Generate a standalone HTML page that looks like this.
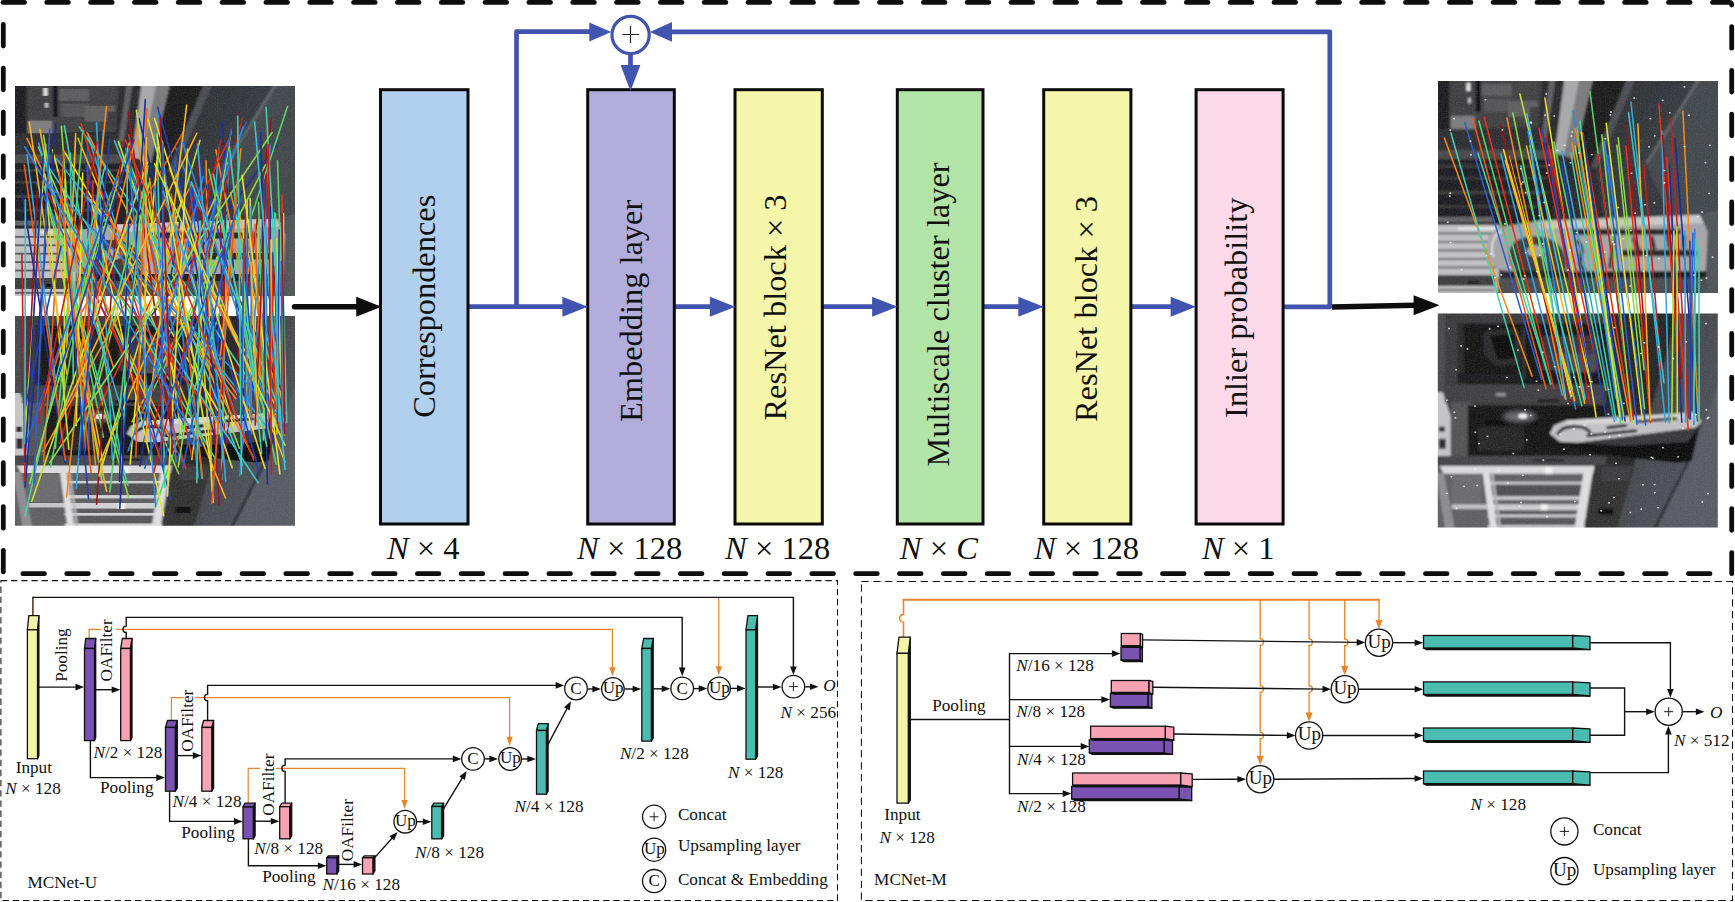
<!DOCTYPE html>
<html><head><meta charset="utf-8"><title>MCNet</title>
<style>
html,body{margin:0;padding:0;background:#fff;}
body{width:1735px;height:902px;overflow:hidden;font-family:"Liberation Serif",serif;}
svg{display:block;font-family:"Liberation Serif",serif;fill:#111;}
</style></head><body>
<svg width="1735" height="902" viewBox="0 0 1735 902">
<rect x="0" y="0" width="1735" height="902" fill="#fff"/>
<defs>
<filter id="blur" x="-5%" y="-5%" width="110%" height="110%"><feGaussianBlur stdDeviation="0.8"/></filter>
<filter id="blur2" x="-30%" y="-30%" width="160%" height="160%"><feGaussianBlur stdDeviation="2.5"/></filter>
<filter id="grain" x="0" y="0" width="100%" height="100%"><feTurbulence type="fractalNoise" baseFrequency="0.8" numOctaves="2" seed="3" result="n"/><feColorMatrix in="n" type="matrix" values="0 0 0 0 0.5  0 0 0 0 0.5  0 0 0 0 0.52  1.4 1.4 1.4 0 -1.75"/></filter>
<linearGradient id="pavA" x1="0" y1="0" x2="1" y2="1"><stop offset="0" stop-color="#2b2e32"/><stop offset="1" stop-color="#45494e"/></linearGradient>
<linearGradient id="pavB" x1="0" y1="0" x2="1" y2="1"><stop offset="0" stop-color="#35383c"/><stop offset="1" stop-color="#5a5e64"/></linearGradient>
<clipPath id="cp"><rect x="0" y="0" width="280" height="212"/></clipPath>
<g id="sceneA" clip-path="url(#cp)"><g filter="url(#blur)">
<rect x="-5" y="-5" width="290" height="222" fill="#2c2c2e"/>
<rect x="-5" y="-5" width="16" height="150" fill="#1e1e20"/>
<polygon points="12,-5 112,-5 104,46 12,48" fill="#414143"/>
<rect x="38" y="-5" width="4.5" height="36" fill="#111113"/>
<rect x="44" y="3" width="30" height="12" fill="#5c5c5e"/>
<rect x="76" y="0" width="24" height="14" fill="#424244"/>
<rect x="46" y="18" width="28" height="13" fill="#525254"/>
<rect x="70" y="20" width="30" height="16" fill="#5e5e60"/>
<rect x="92" y="26" width="14" height="14" fill="#3a3a3c"/>
<rect x="28.5" y="2" width="4" height="8" fill="#e8e8e8"/>
<rect x="29" y="17" width="4" height="5" fill="#c4c4c4"/>
<rect x="16" y="14" width="14" height="12" fill="#3e3e40"/>
<rect x="13" y="35" width="24" height="13" fill="#7c7c7e"/>
<rect x="-5" y="48" width="125" height="22" fill="#2e2e30"/>
<rect x="-5" y="69" width="125" height="9" fill="#48484a"/>
<rect x="-5" y="79" width="120" height="62" fill="#1f1f21"/>
<rect x="0" y="84" width="110" height="2.5" fill="#3a3a3c"/>
<rect x="0" y="96" width="110" height="2.5" fill="#38383a"/>
<rect x="0" y="110" width="110" height="3" fill="#3c3c3e"/>
<rect x="0" y="124" width="100" height="3" fill="#343436"/>
<rect x="-5" y="136" width="60" height="5" fill="#646466"/>
<polygon points="104,-5 128,-5 117,70 100,60" fill="#2c2c2e"/>
<polygon points="112,-5 118,-5 108,62 103,60" fill="#5e5e60"/>
<polygon points="127,-5 156,-5 136,78 117,72" fill="#7a7a7c"/>
<polygon points="127,-5 142,-5 126,74 117,72" fill="#a9a9ab"/>
<polygon points="156,-5 192,-5 154,86 136,78" fill="#1a1a1c"/>
<polygon points="190,-5 199,-5 159,88 153,86" fill="#4c4e52"/>
<polygon points="200,-5 285,-5 285,217 160,217 168,132 158,88" fill="url(#pavA)"/>
<polygon points="262,-5 285,-5 285,150 240,150 226,122 208,82" fill="#43474c"/>
<polygon points="261,-5 265,-5 211,82 207,82" fill="#5c6065"/>
<polygon points="158,88 207,84 226,122 240,150 168,150" fill="#34363a"/>
<rect x="-5" y="144" width="66" height="72" fill="#c2c2c4"/>
<rect x="-5" y="151.5" width="64" height="1.8" fill="#5a5a5c"/>
<rect x="-5" y="160" width="64" height="1.8" fill="#5a5a5c"/>
<rect x="-5" y="168.5" width="64" height="1.8" fill="#5a5a5c"/>
<rect x="-5" y="177" width="64" height="1.8" fill="#5a5a5c"/>
<rect x="-5" y="185.5" width="64" height="1.8" fill="#5a5a5c"/>
<rect x="-5" y="194" width="62" height="11" fill="#3c3c3e"/>
<rect x="-5" y="208" width="62" height="2" fill="#666668"/>
<rect x="30" y="200" width="11" height="3" fill="#0c0c0e"/>
<rect x="20" y="146" width="40" height="3" fill="#e4e4e6"/>
<path d="M62,146 C50,150 46,166 50,176 C54,186 62,190 70,190 L268,190 L270,150 L262,134 L100,140 Z" fill="#a6a6a8"/>
<path d="M64,150 C54,154 52,168 56,176" fill="none" stroke="#e0e0e2" stroke-width="2"/>
<polygon points="100,140 262,134 266,142 102,148" fill="#c8c8ca"/>
<path d="M72,168 C76,156 96,152 112,158 C126,164 130,178 128,190 L78,190 C72,184 70,176 72,168 Z" fill="#3e3e40"/>
<ellipse cx="98" cy="170" rx="9" ry="6" fill="#a8a8aa"/>
<g fill="none" stroke="#262628" stroke-linecap="round">
<path d="M138,151 H240" stroke-width="6"/>
<path d="M186,172 H256" stroke-width="6.5"/>
<path d="M140,160 C150,172 136,182 146,188 M160,158 L164,186 M176,158 L172,186" stroke-width="3.5"/>
<path d="M196,158 L200,168 M214,157 L216,167 M230,156 L232,166 M246,156 L246,166" stroke-width="4"/>
</g>
<polygon points="70,190 268,190 268,197 74,197" fill="#1a1a1c"/>
<polygon points="60,197 285,197 285,217 60,217" fill="#4a4c50"/>
<polygon points="262,134 285,128 285,217 268,217 270,150" fill="#505458"/>
</g><rect x="0" y="0" width="280" height="212" filter="url(#grain)" opacity="0.12"/></g>
<g id="sceneB" clip-path="url(#cp)"><g filter="url(#blur)">
<rect x="-5" y="-5" width="290" height="222" fill="#3a3a3c"/>
<rect x="-5" y="-5" width="12" height="90" fill="#4a4a4c"/>
<polygon points="-5,78 5,78 13,102 13,145 -5,145" fill="#c6c6c8"/>
<rect x="1" y="112" width="6" height="5" fill="#2c2c2e"/>
<rect x="1" y="124" width="7" height="10" fill="#2c2c2e"/>
<rect x="13" y="76" width="22" height="70" fill="#525254"/>
<rect x="20" y="10" width="148" height="60" fill="#161618"/>
<polygon points="20,10 26,10 26,70 20,70" fill="#2a2a2c"/>
<polygon points="46,18 78,14 84,24 82,50 58,52 46,40" fill="#2a2a2c"/>
<polygon points="52,22 76,20 78,44 60,46" fill="#0f0f11"/>
<rect x="84" y="14" width="4" height="52" fill="#2e2e30"/>
<rect x="104" y="22" width="58" height="34" fill="#3c3034"/>
<rect x="118" y="40" width="40" height="18" fill="#4a4c52"/>
<rect x="20" y="60" width="62" height="8" fill="#1f1f21"/>
<rect x="7" y="71" width="165" height="17" fill="#414143"/>
<rect x="58" y="78.5" width="10" height="3.5" fill="#8c8c8e"/>
<rect x="100" y="85" width="22" height="2.6" fill="#101014"/>
<rect x="30" y="91" width="144" height="50" fill="#131315"/>
<rect x="40" y="112" width="46" height="24" fill="#262628"/>
<rect x="48" y="106" width="52" height="4" fill="#0a0a0c"/>
<ellipse cx="82" cy="102" rx="17" ry="6" fill="#6c6c6e" filter="url(#blur2)"/>
<ellipse cx="85" cy="101.5" rx="4.5" ry="2.6" fill="#f6f6f6"/>
<rect x="-5" y="141" width="180" height="10.5" fill="#454547"/>
<rect x="96" y="144" width="30" height="2.4" fill="#242426"/>
<polygon points="168,-5 244,-5 214,92 196,150 168,150" fill="#262628"/>
<polygon points="242,-5 285,-5 285,217 176,217 196,150 214,92" fill="url(#pavB)"/>
<polygon points="252,144 285,60 285,217 216,217" fill="#585c62"/>
<polygon points="250,144 253,144 217,217 213,217" fill="#2e3034"/>
<rect x="-5" y="151" width="162" height="70" fill="#606062"/>
<rect x="14" y="160" width="30" height="28" fill="#6c6c6e"/>
<rect x="56" y="170" width="90" height="12" fill="#505052"/>
<rect x="56" y="196" width="84" height="14" fill="#565658"/>
<polygon points="2,151 157,151 155,158.6 6,158.6" fill="#dcdcde"/>
<rect x="50" y="166.7" width="98" height="2.4" fill="#d2d2d4"/>
<rect x="50" y="181" width="98" height="3.4" fill="#d2d2d4"/>
<rect x="50" y="189" width="98" height="5.6" fill="#d2d2d4"/>
<rect x="50" y="199" width="98" height="2.8" fill="#d2d2d4"/>
<rect x="50" y="209.6" width="98" height="3" fill="#d2d2d4"/>
<rect x="14" y="189" width="38" height="4.5" fill="#c6c6c8"/>
<polygon points="45,158 51.6,158 60,217 53,217" fill="#e2e2e4"/>
<polygon points="53,158 55.5,158 64,217 61.5,217" fill="#b8b8ba"/>
<polygon points="146,156 155,156 145,217 136,217" fill="#e0e0e2"/>
<polygon points="-2,158 6,158 18,217 8,217" fill="#8e8e90"/>
<rect x="107" y="152" width="7" height="7" fill="#f4f4f4"/>
<rect x="103" y="189" width="7" height="6" fill="#f4f4f4"/>
<polygon points="157,150 197,150 178,217 146,217" fill="#303032"/>
<polygon points="164,152 194,152 190,166 164,166" fill="#3e3e40"/>
<rect x="160" y="193" width="16" height="6" fill="#0e0e10"/>
<polygon points="132,124 262,110 254,146 240,148 176,141 134,132" fill="#0c0c0e"/>
<polygon points="112,119 116,111 128,106 256,98 264,107 258,113 140,128 122,127" fill="#c2c2c4"/>
<polygon points="128,106 256,98 258,103 130,111" fill="#d8d8da"/>
<path d="M120,119 C126,109 148,110 152,118 M150,121 L198,116 M200,107 L238,104 M170,113 L188,111" fill="none" stroke="#262628" stroke-width="3" stroke-linecap="round"/>
<polygon points="140,128 258,113 262,111 250,127 186,131" fill="#38383a"/>
</g><rect x="0" y="0" width="280" height="212" filter="url(#grain)" opacity="0.12"/></g>
</defs>
<use href="#sceneA" transform="translate(15 86) scale(1 0.99)"/>
<use href="#sceneB" transform="translate(15 315.9) scale(1 0.99)"/>
<use href="#sceneA" transform="translate(1437.9 81) scale(1 1)"/>
<use href="#sceneB" transform="translate(1437.8 313.5) scale(1 1.01)"/>
<g stroke-width="1.6" stroke-linecap="round" fill="none">
<path d="M265.33,197.54 L267.51,400.69" stroke="#2b5fd2"/>
<path d="M85.5,165.06 L170.89,499.38" stroke="#2440b8"/>
<path d="M175.66,147.73 L285,422.97" stroke="#2f86de"/>
<path d="M174,166.18 L224.38,389.79" stroke="#45d0a8"/>
<path d="M120.8,164.66 L40.38,410.08" stroke="#f05c1a"/>
<path d="M229.3,155.16 L214.07,405.52" stroke="#2b5fd2"/>
<path d="M174.95,161.97 L225.75,471.27" stroke="#2b5fd2"/>
<path d="M52.64,149.99 L109.14,370.99" stroke="#ece02e"/>
<path d="M247.12,199.57 L246.35,421.38" stroke="#c4e23a"/>
<path d="M194.43,260.36 L285,422.25" stroke="#f4b624"/>
<path d="M27.05,154.72 L55.21,377.84" stroke="#36a8dc"/>
<path d="M218.88,147.86 L196.49,437.57" stroke="#36a8dc"/>
<path d="M240.57,213.97 L132.15,432.26" stroke="#58d46c"/>
<path d="M61.45,126.2 L85.2,447.15" stroke="#8cdc4a"/>
<path d="M96.56,122.91 L112.38,460.06" stroke="#36a8dc"/>
<path d="M206.05,160.83 L211.81,490.9" stroke="#f28a1e"/>
<path d="M127.68,147.47 L124.21,437.43" stroke="#45d0a8"/>
<path d="M139.09,118.58 L218.25,452.67" stroke="#1c2f96"/>
<path d="M39.84,129.33 L102.95,462.44" stroke="#f4b624"/>
<path d="M148.07,119.28 L233.33,426.07" stroke="#ece02e"/>
<path d="M219.41,156.61 L224.56,450.53" stroke="#9c1420"/>
<path d="M280.2,233.19 L276.84,433.7" stroke="#f4b624"/>
<path d="M227.88,162.84 L221.74,479.58" stroke="#45d0a8"/>
<path d="M237.03,204.64 L285,413.5" stroke="#f4b624"/>
<path d="M216.91,257.29 L191.85,459.6" stroke="#f4b624"/>
<path d="M276.94,144.43 L83.53,408.51" stroke="#1c2f96"/>
<path d="M149.5,178.2 L171.56,385.23" stroke="#f28a1e"/>
<path d="M230.66,192.69 L285,428.85" stroke="#f28a1e"/>
<path d="M269,229.26 L275.35,416.14" stroke="#c81e1c"/>
<path d="M197.15,142.99 L219.29,505.04" stroke="#9c1420"/>
<path d="M221.86,122.17 L244.56,408.18" stroke="#1c2f96"/>
<path d="M88.49,137.32 L176.3,418.55" stroke="#36a8dc"/>
<path d="M37.32,191.05 L25,450.58" stroke="#9c1420"/>
<path d="M56.04,123.6 L25,487.07" stroke="#1c2f96"/>
<path d="M273.02,252.33 L268.52,431.95" stroke="#2440b8"/>
<path d="M87.6,135.78 L88.94,449.61" stroke="#2b5fd2"/>
<path d="M139.79,172.78 L59.82,443.5" stroke="#c81e1c"/>
<path d="M157.08,133.02 L164.81,487.5" stroke="#45d0a8"/>
<path d="M246.12,121.93 L139.07,381.89" stroke="#2b5fd2"/>
<path d="M78,138.27 L225.45,497.76" stroke="#f4b624"/>
<path d="M59.32,218.27 L103.39,437.16" stroke="#58d46c"/>
<path d="M64.27,151.43 L229.54,429.72" stroke="#ece02e"/>
<path d="M45.71,144.56 L25,435.47" stroke="#c4e23a"/>
<path d="M158.29,111.85 L198.1,477.07" stroke="#2f86de"/>
<path d="M43.53,135.31 L101.93,480.51" stroke="#8cdc4a"/>
<path d="M129.79,163.32 L239.42,448.2" stroke="#8cdc4a"/>
<path d="M36.42,183.19 L182.89,462.44" stroke="#2b5fd2"/>
<path d="M183.99,130.67 L56.39,357.15" stroke="#f05c1a"/>
<path d="M250.1,198.49 L254.25,384.57" stroke="#c4e23a"/>
<path d="M189.48,162.66 L139.99,466.01" stroke="#1c2f96"/>
<path d="M287.53,106.55 L155.46,507.22" stroke="#58d46c"/>
<path d="M271.48,118.1 L220.49,482.23" stroke="#9c1420"/>
<path d="M103.49,130.01 L76.25,488.33" stroke="#36a8dc"/>
<path d="M129.46,142.7 L58.49,381.37" stroke="#8cdc4a"/>
<path d="M136.44,110.28 L181.4,435.04" stroke="#c4e23a"/>
<path d="M259.02,218.75 L253.51,372.93" stroke="#c4e23a"/>
<path d="M79.39,126.88 L252.32,384.99" stroke="#45d0a8"/>
<path d="M87.51,197.04 L235.8,398.69" stroke="#f28a1e"/>
<path d="M27.03,138.42 L176.08,451.89" stroke="#f28a1e"/>
<path d="M225.84,188.04 L222.49,398.87" stroke="#9c1420"/>
<path d="M189.13,190.09 L285,397.77" stroke="#9c1420"/>
<path d="M173.35,203.62 L202.11,478.09" stroke="#58d46c"/>
<path d="M243.83,234.16 L242.85,387.54" stroke="#8cdc4a"/>
<path d="M275.42,213.46 L275.33,375.71" stroke="#8cdc4a"/>
<path d="M83.92,193.72 L192.68,444.41" stroke="#2b5fd2"/>
<path d="M149.37,182.53 L98.38,383.27" stroke="#8cdc4a"/>
<path d="M195.61,183.87 L150.96,396.55" stroke="#c81e1c"/>
<path d="M93.03,180.86 L84.9,450.55" stroke="#e43418"/>
<path d="M263.81,232.32 L263.42,439.7" stroke="#8cdc4a"/>
<path d="M275.89,239.49 L275.61,414.46" stroke="#8cdc4a"/>
<path d="M243.16,231.21 L246.92,401.88" stroke="#c4e23a"/>
<path d="M215.88,149.79 L271.22,427.78" stroke="#f28a1e"/>
<path d="M53.17,229.8 L106.48,491.21" stroke="#f4b624"/>
<path d="M38.41,147.05 L178.72,473.76" stroke="#8cdc4a"/>
<path d="M48.26,207.83 L128.5,497.01" stroke="#8cdc4a"/>
<path d="M137.91,139.53 L167.26,366.76" stroke="#f28a1e"/>
<path d="M275.22,242.54 L268.85,390.44" stroke="#2440b8"/>
<path d="M265.39,164.94 L132.04,421.84" stroke="#8cdc4a"/>
<path d="M271.3,254.95 L275.5,408.81" stroke="#e43418"/>
<path d="M263.88,264.21 L285,397.83" stroke="#2b5fd2"/>
<path d="M281.31,223.14 L286.67,422.4" stroke="#45d0a8"/>
<path d="M122,141.76 L96.6,504.16" stroke="#9c1420"/>
<path d="M162.83,199.5 L285,435.49" stroke="#f05c1a"/>
<path d="M274.22,238.29 L277.81,370.55" stroke="#f28a1e"/>
<path d="M270.3,230.33 L242.52,445.28" stroke="#2f86de"/>
<path d="M80.98,123.62 L185.74,468.67" stroke="#e43418"/>
<path d="M274.46,266.12 L279.18,414.1" stroke="#9c1420"/>
<path d="M191.53,184.71 L43.15,451.39" stroke="#f28a1e"/>
<path d="M90.92,199.53 L163.67,515.71" stroke="#ece02e"/>
<path d="M193.75,218.5 L213.21,502.35" stroke="#c4e23a"/>
<path d="M253.02,231.31 L249.61,418.92" stroke="#f05c1a"/>
<path d="M264.81,209.62 L266.57,423.79" stroke="#45d0a8"/>
<path d="M82.86,130.58 L55.3,448.32" stroke="#58d46c"/>
<path d="M244.04,238.96 L253.5,399.42" stroke="#2440b8"/>
<path d="M70.34,153.4 L73.41,383.78" stroke="#45d0a8"/>
<path d="M70.72,232.74 L113.67,368.02" stroke="#f28a1e"/>
<path d="M245.89,253.95 L280.27,384.16" stroke="#2f86de"/>
<path d="M171.38,194.11 L202.21,475.06" stroke="#f05c1a"/>
<path d="M44.52,185.7 L164.71,442.82" stroke="#c81e1c"/>
<path d="M283.48,213.81 L282.34,422.5" stroke="#ece02e"/>
<path d="M118.28,141.44 L232.16,467.62" stroke="#c4e23a"/>
<path d="M22.01,193.59 L64.79,462.4" stroke="#1c2f96"/>
<path d="M242.37,118.23 L152.54,477.23" stroke="#c81e1c"/>
<path d="M56.57,158.64 L265.21,424.89" stroke="#36a8dc"/>
<path d="M183.74,140.73 L221.66,432.65" stroke="#2b5fd2"/>
<path d="M158.19,147.21 L130.2,463.89" stroke="#ece02e"/>
<path d="M64.07,150.9 L43.62,461.5" stroke="#f05c1a"/>
<path d="M154.59,186.38 L175.97,461.08" stroke="#2f86de"/>
<path d="M229.97,137.42 L94.06,417.75" stroke="#e43418"/>
<path d="M87.31,132.8 L253.12,456.93" stroke="#f28a1e"/>
<path d="M263.41,260.22 L263.78,386.61" stroke="#e43418"/>
<path d="M266.05,107.3 L282.41,393.49" stroke="#45d0a8"/>
<path d="M270.29,145.2 L239.62,475.98" stroke="#2f86de"/>
<path d="M191.84,186.37 L221.96,370.31" stroke="#2440b8"/>
<path d="M75.67,133.7 L66.44,357.04" stroke="#f4b624"/>
<path d="M247.46,224.07 L245.26,408.79" stroke="#2b5fd2"/>
<path d="M196.02,147.85 L279.97,465.6" stroke="#2440b8"/>
<path d="M104.71,166.95 L25,515.91" stroke="#45d0a8"/>
<path d="M125.72,148.6 L202.82,441.42" stroke="#2f86de"/>
<path d="M240.86,148.73 L220.04,359.35" stroke="#f28a1e"/>
<path d="M44.86,174.05 L68.84,449.26" stroke="#c4e23a"/>
<path d="M64.37,125.74 L124,473.56" stroke="#45d0a8"/>
<path d="M101.83,208.36 L260.5,426.43" stroke="#f28a1e"/>
<path d="M44.13,186.76 L127.85,484.94" stroke="#45d0a8"/>
<path d="M243.22,126.89 L128.13,450.7" stroke="#2f86de"/>
<path d="M61.06,246.05 L25,407.79" stroke="#2440b8"/>
<path d="M200,140.37 L99.07,476.01" stroke="#c4e23a"/>
<path d="M177.14,150.81 L225.24,442.87" stroke="#1c2f96"/>
<path d="M21.94,254.73 L25,480.41" stroke="#c81e1c"/>
<path d="M128.29,112.32 L171.52,433.09" stroke="#9c1420"/>
<path d="M157.72,107.39 L260.39,475.96" stroke="#2440b8"/>
<path d="M245.92,202.88 L241.29,379.69" stroke="#c81e1c"/>
<path d="M98.15,203.26 L50.57,467.31" stroke="#58d46c"/>
<path d="M38.56,143.04 L125.18,420.86" stroke="#36a8dc"/>
<path d="M89.12,243.18 L215.07,458.29" stroke="#58d46c"/>
<path d="M106.51,106.52 L66.6,497.16" stroke="#f28a1e"/>
<path d="M66.22,198.54 L161.93,462.62" stroke="#e43418"/>
<path d="M169.79,168.63 L285,462" stroke="#f4b624"/>
<path d="M91.95,258.02 L226.2,432.45" stroke="#e43418"/>
<path d="M82.65,173.15 L76.19,425.82" stroke="#ece02e"/>
<path d="M217.45,192.2 L100.07,461.6" stroke="#f4b624"/>
<path d="M258.62,202.64 L263.23,395.37" stroke="#58d46c"/>
<path d="M131.75,138.12 L119.49,481.51" stroke="#1c2f96"/>
<path d="M272.01,132.64 L49.72,462.81" stroke="#8cdc4a"/>
<path d="M128.72,134.58 L191.4,455.32" stroke="#e43418"/>
<path d="M251.17,206.56 L251.27,433.94" stroke="#2f86de"/>
<path d="M24.31,165.04 L65.22,459.89" stroke="#f05c1a"/>
<path d="M282.13,195.23 L283.44,429.26" stroke="#e43418"/>
<path d="M42.57,178.55 L282.13,418.86" stroke="#2f86de"/>
<path d="M110.92,192.61 L29.73,483.53" stroke="#8cdc4a"/>
<path d="M191.41,181.89 L285,423.81" stroke="#45d0a8"/>
<path d="M43.89,159.89 L258.41,483.09" stroke="#3cc4cf"/>
<path d="M220.97,140.64 L153.66,428.32" stroke="#c81e1c"/>
<path d="M147.53,162.61 L31.84,501.19" stroke="#c4e23a"/>
<path d="M270.37,206.75 L269.39,438.5" stroke="#1c2f96"/>
<path d="M29.27,122.07 L66.68,373.75" stroke="#f4b624"/>
<path d="M74.42,239.24 L95.57,465.26" stroke="#f28a1e"/>
<path d="M49.71,129.11 L33.88,483.82" stroke="#2b5fd2"/>
<path d="M242.12,175.29 L279.89,473.93" stroke="#ece02e"/>
<path d="M276.43,239.39 L282.22,403.64" stroke="#c4e23a"/>
<path d="M186.7,105.15 L144.99,441.68" stroke="#f4b624"/>
<path d="M146.68,108.89 L135.87,456.56" stroke="#f05c1a"/>
<path d="M264.6,208.44 L257.47,404.93" stroke="#f4b624"/>
<path d="M277.53,160.79 L285,401.64" stroke="#58d46c"/>
<path d="M154.55,118.58 L264.94,468.32" stroke="#ece02e"/>
<path d="M282.09,214.27 L284.78,433.21" stroke="#9c1420"/>
<path d="M66.86,252.31 L88.49,498.65" stroke="#2440b8"/>
<path d="M114.39,140.62 L242.52,465.07" stroke="#3cc4cf"/>
<path d="M145.13,183.31 L84.6,429.05" stroke="#58d46c"/>
<path d="M157.06,134.88 L211.81,470.7" stroke="#ece02e"/>
<path d="M182.58,142.81 L271.59,418.45" stroke="#2f86de"/>
<path d="M65.11,178.88 L63.95,399.58" stroke="#c4e23a"/>
<path d="M137.56,128.2 L76.37,390.69" stroke="#f28a1e"/>
<path d="M145.33,99.65 L119.8,508.17" stroke="#1c2f96"/>
<path d="M59.01,171.64 L91.08,472.35" stroke="#f05c1a"/>
<path d="M208.91,169.56 L276.13,464.16" stroke="#58d46c"/>
<path d="M203.13,176.64 L142.32,426.22" stroke="#2f86de"/>
<path d="M260.79,132.52 L267.38,484.03" stroke="#1c2f96"/>
<path d="M187.58,149.06 L167.41,496" stroke="#ece02e"/>
<path d="M229.55,146.9 L261.62,453.37" stroke="#45d0a8"/>
<path d="M160.15,117.41 L172.41,453.13" stroke="#9c1420"/>
<path d="M25.32,199.9 L25,444.02" stroke="#3cc4cf"/>
<path d="M255.07,224.39 L260.57,371.46" stroke="#f05c1a"/>
<path d="M266.34,174.89 L255.22,424.91" stroke="#9c1420"/>
<path d="M281.36,261.52 L281.97,444.61" stroke="#2b5fd2"/>
<path d="M237.97,175.66 L211.92,503.16" stroke="#f05c1a"/>
<path d="M146.45,137.46 L144.58,394.79" stroke="#f4b624"/>
<path d="M231,131.42 L178.28,466.63" stroke="#8cdc4a"/>
<path d="M116.94,178.4 L25,447.14" stroke="#2b5fd2"/>
<path d="M197.68,144.2 L225.65,481.44" stroke="#36a8dc"/>
<path d="M163.21,142.46 L161.37,464.62" stroke="#2b5fd2"/>
<path d="M196.8,133.24 L61.82,414.59" stroke="#f4b624"/>
<path d="M231.35,129.38 L163.32,467.48" stroke="#2b5fd2"/>
<path d="M200.15,220.96 L196.85,482.73" stroke="#45d0a8"/>
<path d="M163.25,191.36 L236.67,419.32" stroke="#36a8dc"/>
<path d="M147.83,165.81 L109.79,491.82" stroke="#58d46c"/>
<path d="M154.51,163.67 L285,445.26" stroke="#c4e23a"/>
<path d="M271.03,239.96 L270.4,418" stroke="#ece02e"/>
<path d="M237.7,116.42 L241.45,473.91" stroke="#45d0a8"/>
<path d="M213.47,174.46 L266.7,445.99" stroke="#45d0a8"/>
<path d="M97.15,142.14 L38.6,422.9" stroke="#c81e1c"/>
<path d="M129.2,159.47 L155.66,506.25" stroke="#2f86de"/>
<path d="M109.68,139.67 L79.46,457.75" stroke="#2440b8"/>
<path d="M279.17,229.98 L277.36,423.8" stroke="#2440b8"/>
<path d="M232.46,225.09 L182.78,468.25" stroke="#2b5fd2"/>
<path d="M250.98,262.53 L257.7,416.13" stroke="#f4b624"/>
<path d="M254.68,122.11 L285,469.5" stroke="#3cc4cf"/>
<path d="M134.04,139.81 L58.17,376.45" stroke="#2440b8"/>
<path d="M242.03,196.62 L144.68,468.19" stroke="#2b5fd2"/>
<path d="M24.79,146.74 L200.92,446.1" stroke="#2f86de"/>
<path d="M43.22,155.89 L25,461.72" stroke="#1c2f96"/>
<path d="M274.65,212.72 L278.9,421.55" stroke="#3cc4cf"/>
<path d="M268.31,144.55 L271.53,474.12" stroke="#c81e1c"/>
<path d="M243.65,243 L241.54,427.37" stroke="#2b5fd2"/>
<path d="M125.24,139.22 L253.79,459.97" stroke="#e43418"/>
</g>
<g stroke-width="1.55" stroke-linecap="round" fill="none">
<path d="M1444.4,138 L1532.06,376.11" stroke="#f28a1e"/>
<path d="M1450.9,133 L1524.11,387.35" stroke="#45d0a8"/>
<path d="M1464.9,123 L1541.55,379.2" stroke="#2b5fd2"/>
<path d="M1472.9,119 L1545.91,388.5" stroke="#f05c1a"/>
<path d="M1478.9,121 L1550.65,384.52" stroke="#58d46c"/>
<path d="M1484.4,117.5 L1554.11,388.59" stroke="#e43418"/>
<path d="M1477.9,153 L1550.89,383.51" stroke="#45d0a8"/>
<path d="M1500.9,154 L1562.21,395.05" stroke="#36a8dc"/>
<path d="M1506.9,118 L1564.94,398.51" stroke="#f28a1e"/>
<path d="M1512.9,113 L1570.65,398.64" stroke="#8cdc4a"/>
<path d="M1519.9,94 L1589.92,381.19" stroke="#c4e23a"/>
<path d="M1526.9,114 L1585.29,399.06" stroke="#3cc4cf"/>
<path d="M1527.9,131 L1575.53,408.98" stroke="#2f86de"/>
<path d="M1538.9,128 L1595.76,402.9" stroke="#e43418"/>
<path d="M1544.9,98 L1596.16,416.79" stroke="#ece02e"/>
<path d="M1553.9,142 L1605.87,390.04" stroke="#58d46c"/>
<path d="M1561.9,151 L1614.33,421.5" stroke="#36a8dc"/>
<path d="M1571.9,143 L1622.27,420.64" stroke="#f28a1e"/>
<path d="M1576.9,128 L1620.52,423.25" stroke="#58d46c"/>
<path d="M1579.9,121 L1620.66,420.02" stroke="#45d0a8"/>
<path d="M1584.9,146 L1622.41,419.17" stroke="#2b5fd2"/>
<path d="M1589.9,91.5 L1625.73,364.22" stroke="#58d46c"/>
<path d="M1597.9,154 L1633.42,419.32" stroke="#c81e1c"/>
<path d="M1603.9,144 L1637,424.27" stroke="#2b5fd2"/>
<path d="M1607.9,155 L1645.6,425.04" stroke="#2b5fd2"/>
<path d="M1616.9,145 L1644.57,408.79" stroke="#8cdc4a"/>
<path d="M1626.9,125 L1650.24,393.09" stroke="#9c1420"/>
<path d="M1625.9,146 L1650.53,422.44" stroke="#e43418"/>
<path d="M1630.9,102 L1665.61,422.75" stroke="#36a8dc"/>
<path d="M1637.9,124 L1650.31,419.86" stroke="#f4b624"/>
<path d="M1643.9,165 L1661.33,370.9" stroke="#c81e1c"/>
<path d="M1658.9,104 L1681.22,402.3" stroke="#e43418"/>
<path d="M1661.9,131 L1669.2,422.82" stroke="#36a8dc"/>
<path d="M1670.9,118 L1688.48,418.07" stroke="#c81e1c"/>
<path d="M1674.9,138 L1697.56,421.07" stroke="#1c2f96"/>
<path d="M1682.9,111 L1698.42,421.89" stroke="#f28a1e"/>
<path d="M1572.97,111 L1615.66,398.25" stroke="#2f86de"/>
<path d="M1575.32,128.68 L1630.33,421.36" stroke="#f28a1e"/>
<path d="M1582.79,132.69 L1631.68,419.99" stroke="#e43418"/>
<path d="M1583.51,136.02 L1625.05,420.8" stroke="#1c2f96"/>
<path d="M1604.39,141.58 L1637.39,365.39" stroke="#2f86de"/>
<path d="M1546.6,137.45 L1589.61,403.61" stroke="#c81e1c"/>
<path d="M1508.95,156.32 L1571.5,396.34" stroke="#c4e23a"/>
<path d="M1500.31,125.11 L1570.62,401.85" stroke="#9c1420"/>
<path d="M1666.75,157.43 L1688.3,430.07" stroke="#e43418"/>
<path d="M1601.85,134.76 L1632.11,422.44" stroke="#8cdc4a"/>
<path d="M1520.78,165.9 L1581.84,405.79" stroke="#45d0a8"/>
<path d="M1503.44,149.6 L1571.99,388.53" stroke="#ece02e"/>
<path d="M1526.57,146.11 L1584.67,403.17" stroke="#f4b624"/>
<path d="M1575.02,145.98 L1623.85,416.63" stroke="#8cdc4a"/>
<path d="M1570.87,152.98 L1616.16,420.17" stroke="#45d0a8"/>
<path d="M1606.23,123.35 L1642.5,419.98" stroke="#ece02e"/>
<path d="M1581.36,132.28 L1619.8,416.17" stroke="#ece02e"/>
<path d="M1542.13,129.58 L1596.12,403.35" stroke="#2440b8"/>
<path d="M1669.49,165.1 L1681.79,422.25" stroke="#1c2f96"/>
<path d="M1618.18,137.75 L1644.13,369.77" stroke="#8cdc4a"/>
<path d="M1548.7,145.82 L1599.62,377.3" stroke="#e43418"/>
<path d="M1505.33,160.71 L1574.75,400.6" stroke="#f4b624"/>
<path d="M1628.53,112.64 L1664.05,383.04" stroke="#3cc4cf"/>
<path d="M1561.31,161.27 L1605.95,416.3" stroke="#2440b8"/>
<path d="M1662.47,135.34 L1681.06,378.5" stroke="#9c1420"/>
<path d="M1530.02,145.2 L1565.94,399.7" stroke="#3cc4cf"/>
<path d="M1673.9,231 L1671.77,423" stroke="#b4e03c"/>
<path d="M1676.9,227 L1677.33,414.55" stroke="#c8e236"/>
<path d="M1684.9,231 L1685.46,422.17" stroke="#36a8dc"/>
<path d="M1692.9,233 L1689.45,418.94" stroke="#2b5fd2"/>
<path d="M1694.9,229 L1693.93,424.42" stroke="#2f86de"/>
<path d="M1695.9,239 L1693.68,420.33" stroke="#45d0a8"/>
<path d="M1698.9,247 L1699.2,423.06" stroke="#45d0a8"/>
<path d="M1689.9,241 L1690.52,419.06" stroke="#2440b8"/>
</g>
<g fill="#f2f2f2">
<rect x="1611.59" y="234.36" width="1.7" height="1.4"/>
<rect x="1657.32" y="506.99" width="1.7" height="1.4"/>
<rect x="1642.71" y="270.46" width="1.7" height="1.4"/>
<rect x="1453.52" y="411.62" width="1.7" height="1.4"/>
<rect x="1696.83" y="215.79" width="1.7" height="1.4"/>
<rect x="1685.44" y="341.14" width="1.7" height="1.4"/>
<rect x="1570.67" y="135.31" width="1.7" height="1.4"/>
<rect x="1590.44" y="433.29" width="1.7" height="1.4"/>
<rect x="1449.39" y="129.35" width="1.7" height="1.4"/>
<rect x="1520.14" y="501.77" width="1.7" height="1.4"/>
<rect x="1649.58" y="117.92" width="1.7" height="1.4"/>
<rect x="1657.84" y="346.25" width="1.7" height="1.4"/>
<rect x="1610.14" y="111.34" width="1.7" height="1.4"/>
<rect x="1446.27" y="492.78" width="1.7" height="1.4"/>
<rect x="1501.62" y="129.1" width="1.7" height="1.4"/>
<rect x="1707.12" y="492.98" width="1.7" height="1.4"/>
<rect x="1522.86" y="278.3" width="1.7" height="1.4"/>
<rect x="1589.23" y="454.07" width="1.7" height="1.4"/>
<rect x="1500.37" y="274.2" width="1.7" height="1.4"/>
<rect x="1629.51" y="511.81" width="1.7" height="1.4"/>
<rect x="1683.64" y="145.76" width="1.7" height="1.4"/>
<rect x="1541.88" y="351.69" width="1.7" height="1.4"/>
<rect x="1484.66" y="99.03" width="1.7" height="1.4"/>
<rect x="1525.96" y="439.12" width="1.7" height="1.4"/>
<rect x="1446.8" y="221.59" width="1.7" height="1.4"/>
<rect x="1535.68" y="380.49" width="1.7" height="1.4"/>
<rect x="1663.63" y="182.15" width="1.7" height="1.4"/>
<rect x="1529.8" y="414.74" width="1.7" height="1.4"/>
<rect x="1633.34" y="97.4" width="1.7" height="1.4"/>
<rect x="1705.18" y="323.07" width="1.7" height="1.4"/>
<rect x="1645.35" y="254.98" width="1.7" height="1.4"/>
<rect x="1450.61" y="476.05" width="1.7" height="1.4"/>
<rect x="1543.31" y="201.7" width="1.7" height="1.4"/>
<rect x="1448.21" y="327.85" width="1.7" height="1.4"/>
<rect x="1494.02" y="277.04" width="1.7" height="1.4"/>
<rect x="1498.07" y="469.65" width="1.7" height="1.4"/>
<rect x="1693.19" y="274.41" width="1.7" height="1.4"/>
<rect x="1537.41" y="389.46" width="1.7" height="1.4"/>
<rect x="1585.47" y="241.12" width="1.7" height="1.4"/>
<rect x="1474.54" y="468.18" width="1.7" height="1.4"/>
<rect x="1657.96" y="257.94" width="1.7" height="1.4"/>
<rect x="1455.54" y="507.66" width="1.7" height="1.4"/>
<rect x="1470.15" y="154.15" width="1.7" height="1.4"/>
<rect x="1608.28" y="502.12" width="1.7" height="1.4"/>
<rect x="1536.33" y="270.84" width="1.7" height="1.4"/>
<rect x="1590.81" y="380.99" width="1.7" height="1.4"/>
<rect x="1530.17" y="121.5" width="1.7" height="1.4"/>
<rect x="1466.6" y="348.27" width="1.7" height="1.4"/>
<rect x="1629.22" y="285.35" width="1.7" height="1.4"/>
<rect x="1488.77" y="328.21" width="1.7" height="1.4"/>
<rect x="1708.36" y="192.71" width="1.7" height="1.4"/>
<rect x="1553.77" y="365.97" width="1.7" height="1.4"/>
<rect x="1603.89" y="251.26" width="1.7" height="1.4"/>
<rect x="1567.01" y="402.85" width="1.7" height="1.4"/>
<rect x="1460.72" y="269.21" width="1.7" height="1.4"/>
<rect x="1454.5" y="417.21" width="1.7" height="1.4"/>
<rect x="1668.92" y="112.11" width="1.7" height="1.4"/>
<rect x="1640.42" y="508.46" width="1.7" height="1.4"/>
<rect x="1613.59" y="243.6" width="1.7" height="1.4"/>
<rect x="1474.16" y="405.41" width="1.7" height="1.4"/>
<rect x="1485.6" y="254.95" width="1.7" height="1.4"/>
<rect x="1524.22" y="409.13" width="1.7" height="1.4"/>
<rect x="1711.71" y="256.45" width="1.7" height="1.4"/>
<rect x="1705.42" y="409.21" width="1.7" height="1.4"/>
<rect x="1575.75" y="231.9" width="1.7" height="1.4"/>
<rect x="1573.23" y="376.7" width="1.7" height="1.4"/>
<rect x="1553.31" y="115.3" width="1.7" height="1.4"/>
<rect x="1546.08" y="516.18" width="1.7" height="1.4"/>
<rect x="1701.21" y="211.39" width="1.7" height="1.4"/>
<rect x="1578.62" y="386.2" width="1.7" height="1.4"/>
<rect x="1469.61" y="140.46" width="1.7" height="1.4"/>
<rect x="1653.82" y="491.98" width="1.7" height="1.4"/>
<rect x="1542.01" y="243.2" width="1.7" height="1.4"/>
<rect x="1651.92" y="457.42" width="1.7" height="1.4"/>
<rect x="1622.53" y="237.93" width="1.7" height="1.4"/>
<rect x="1542.47" y="459.39" width="1.7" height="1.4"/>
<rect x="1520.61" y="183.14" width="1.7" height="1.4"/>
<rect x="1650.55" y="456.68" width="1.7" height="1.4"/>
<rect x="1524.06" y="275.11" width="1.7" height="1.4"/>
<rect x="1618.62" y="434.63" width="1.7" height="1.4"/>
<rect x="1448.98" y="195.4" width="1.7" height="1.4"/>
<rect x="1512.48" y="452.83" width="1.7" height="1.4"/>
<rect x="1569.04" y="249.34" width="1.7" height="1.4"/>
<rect x="1618.02" y="478.03" width="1.7" height="1.4"/>
<rect x="1538.44" y="214.81" width="1.7" height="1.4"/>
<rect x="1642.06" y="484.14" width="1.7" height="1.4"/>
<rect x="1539.01" y="254.58" width="1.7" height="1.4"/>
<rect x="1677.2" y="456.17" width="1.7" height="1.4"/>
<rect x="1705.55" y="277.3" width="1.7" height="1.4"/>
<rect x="1583.63" y="424.37" width="1.7" height="1.4"/>
<rect x="1490.1" y="253.32" width="1.7" height="1.4"/>
<rect x="1695.14" y="413.95" width="1.7" height="1.4"/>
<rect x="1629.82" y="229.94" width="1.7" height="1.4"/>
<rect x="1640.07" y="352.87" width="1.7" height="1.4"/>
<rect x="1653.48" y="202.17" width="1.7" height="1.4"/>
<rect x="1622.84" y="402.66" width="1.7" height="1.4"/>
<rect x="1611.81" y="240.94" width="1.7" height="1.4"/>
<rect x="1615.21" y="462.58" width="1.7" height="1.4"/>
<rect x="1453.25" y="118" width="1.7" height="1.4"/>
<rect x="1563.12" y="448.52" width="1.7" height="1.4"/>
<rect x="1504.16" y="223.19" width="1.7" height="1.4"/>
<rect x="1613.61" y="326.87" width="1.7" height="1.4"/>
<rect x="1571.34" y="131.25" width="1.7" height="1.4"/>
<rect x="1460.2" y="345.21" width="1.7" height="1.4"/>
<rect x="1530.32" y="122.31" width="1.7" height="1.4"/>
<rect x="1497.23" y="325.63" width="1.7" height="1.4"/>
<rect x="1569.68" y="162.06" width="1.7" height="1.4"/>
<rect x="1608.54" y="436.53" width="1.7" height="1.4"/>
<rect x="1509.17" y="266.64" width="1.7" height="1.4"/>
<rect x="1445.98" y="399.58" width="1.7" height="1.4"/>
<rect x="1519.99" y="168.01" width="1.7" height="1.4"/>
<rect x="1476.41" y="484.77" width="1.7" height="1.4"/>
<rect x="1545.35" y="93.21" width="1.7" height="1.4"/>
<rect x="1609.01" y="337.46" width="1.7" height="1.4"/>
<rect x="1590.93" y="153.87" width="1.7" height="1.4"/>
<rect x="1600.32" y="510.16" width="1.7" height="1.4"/>
<rect x="1663.63" y="169.82" width="1.7" height="1.4"/>
<rect x="1662.06" y="446.96" width="1.7" height="1.4"/>
<rect x="1544.17" y="114.42" width="1.7" height="1.4"/>
<rect x="1604.32" y="431.27" width="1.7" height="1.4"/>
<rect x="1700.52" y="279.6" width="1.7" height="1.4"/>
<rect x="1607.69" y="388.72" width="1.7" height="1.4"/>
<rect x="1683.56" y="86.19" width="1.7" height="1.4"/>
<rect x="1474.51" y="431.66" width="1.7" height="1.4"/>
<rect x="1609.53" y="114.14" width="1.7" height="1.4"/>
<rect x="1613.24" y="496.76" width="1.7" height="1.4"/>
<rect x="1545.88" y="172.34" width="1.7" height="1.4"/>
<rect x="1506.01" y="376.8" width="1.7" height="1.4"/>
<rect x="1704.57" y="161.96" width="1.7" height="1.4"/>
<rect x="1701.46" y="501.25" width="1.7" height="1.4"/>
<rect x="1604.39" y="137.96" width="1.7" height="1.4"/>
<rect x="1706.74" y="417.76" width="1.7" height="1.4"/>
<rect x="1556.42" y="149.83" width="1.7" height="1.4"/>
<rect x="1707.62" y="416.85" width="1.7" height="1.4"/>
<rect x="1522.08" y="181.39" width="1.7" height="1.4"/>
<rect x="1478.22" y="442.84" width="1.7" height="1.4"/>
<rect x="1563.86" y="144.62" width="1.7" height="1.4"/>
<rect x="1653.73" y="483.86" width="1.7" height="1.4"/>
<rect x="1449.41" y="192.51" width="1.7" height="1.4"/>
<rect x="1518.63" y="505.55" width="1.7" height="1.4"/>
<rect x="1653.89" y="135.13" width="1.7" height="1.4"/>
<rect x="1517.01" y="349.45" width="1.7" height="1.4"/>
<rect x="1708.93" y="144.64" width="1.7" height="1.4"/>
<rect x="1607.54" y="413.43" width="1.7" height="1.4"/>
<rect x="1617.44" y="206.77" width="1.7" height="1.4"/>
<rect x="1643.56" y="342.14" width="1.7" height="1.4"/>
<rect x="1648.17" y="146.14" width="1.7" height="1.4"/>
<rect x="1587.71" y="385.72" width="1.7" height="1.4"/>
<rect x="1524.85" y="191.97" width="1.7" height="1.4"/>
<rect x="1569.31" y="390.71" width="1.7" height="1.4"/>
<rect x="1644.07" y="204.16" width="1.7" height="1.4"/>
<rect x="1455.49" y="368.98" width="1.7" height="1.4"/>
<rect x="1567.09" y="269.31" width="1.7" height="1.4"/>
<rect x="1681.99" y="427.62" width="1.7" height="1.4"/>
<rect x="1449.77" y="241.68" width="1.7" height="1.4"/>
<rect x="1559.58" y="433.63" width="1.7" height="1.4"/>
<rect x="1634.28" y="212.45" width="1.7" height="1.4"/>
<rect x="1573.98" y="500.84" width="1.7" height="1.4"/>
<rect x="1548.44" y="164.37" width="1.7" height="1.4"/>
<rect x="1672.41" y="357.79" width="1.7" height="1.4"/>
<rect x="1524.76" y="252" width="1.7" height="1.4"/>
<rect x="1463.37" y="485.76" width="1.7" height="1.4"/>
<rect x="1630.67" y="172.56" width="1.7" height="1.4"/>
<rect x="1521.97" y="474.65" width="1.7" height="1.4"/>
<rect x="1688.14" y="114.54" width="1.7" height="1.4"/>
<rect x="1573.06" y="428.32" width="1.7" height="1.4"/>
<rect x="1578.28" y="152.15" width="1.7" height="1.4"/>
<rect x="1486.64" y="435.67" width="1.7" height="1.4"/>
<rect x="1661.84" y="99.68" width="1.7" height="1.4"/>
<rect x="1506.99" y="482.42" width="1.7" height="1.4"/>
</g>
<g stroke="#0d0d0d" stroke-width="4.8" stroke-linecap="round" fill="none">
<path d="M2.94,2.4 H24.54"/>
<path d="M46.77,2.4 H68.37"/>
<path d="M90.6,2.4 H112.2"/>
<path d="M134.43,2.4 H156.03"/>
<path d="M178.26,2.4 H199.86"/>
<path d="M222.09,2.4 H243.69"/>
<path d="M265.92,2.4 H287.52"/>
<path d="M309.75,2.4 H331.35"/>
<path d="M353.58,2.4 H375.18"/>
<path d="M397.41,2.4 H419.01"/>
<path d="M441.24,2.4 H462.84"/>
<path d="M485.07,2.4 H506.67"/>
<path d="M528.9,2.4 H550.5"/>
<path d="M572.73,2.4 H594.33"/>
<path d="M616.56,2.4 H638.16"/>
<path d="M660.39,2.4 H681.99"/>
<path d="M704.22,2.4 H725.82"/>
<path d="M748.05,2.4 H769.65"/>
<path d="M791.88,2.4 H813.48"/>
<path d="M835.71,2.4 H857.31"/>
<path d="M879.54,2.4 H901.14"/>
<path d="M923.37,2.4 H944.97"/>
<path d="M967.2,2.4 H988.8"/>
<path d="M1011.03,2.4 H1032.63"/>
<path d="M1054.86,2.4 H1076.46"/>
<path d="M1098.69,2.4 H1120.29"/>
<path d="M1142.52,2.4 H1164.12"/>
<path d="M1186.35,2.4 H1207.95"/>
<path d="M1230.18,2.4 H1251.78"/>
<path d="M1274.01,2.4 H1295.61"/>
<path d="M1317.84,2.4 H1339.44"/>
<path d="M1361.67,2.4 H1383.27"/>
<path d="M1405.5,2.4 H1427.1"/>
<path d="M1449.33,2.4 H1470.93"/>
<path d="M1493.16,2.4 H1514.76"/>
<path d="M1536.99,2.4 H1558.59"/>
<path d="M1580.82,2.4 H1602.42"/>
<path d="M1624.65,2.4 H1646.25"/>
<path d="M1668.48,2.4 H1690.08"/>
<path d="M1712.5,2.4 H1729 Q1731.7,2.4 1731.7,5"/>
<path d="M22.9,573.7 H44.5"/>
<path d="M66.73,573.7 H88.33"/>
<path d="M110.56,573.7 H132.16"/>
<path d="M154.39,573.7 H175.99"/>
<path d="M198.22,573.7 H219.82"/>
<path d="M242.05,573.7 H263.65"/>
<path d="M285.88,573.7 H307.48"/>
<path d="M329.71,573.7 H351.31"/>
<path d="M373.54,573.7 H395.14"/>
<path d="M417.37,573.7 H438.97"/>
<path d="M461.2,573.7 H482.8"/>
<path d="M505.03,573.7 H526.63"/>
<path d="M548.86,573.7 H570.46"/>
<path d="M592.69,573.7 H614.29"/>
<path d="M636.52,573.7 H658.12"/>
<path d="M680.35,573.7 H701.95"/>
<path d="M724.18,573.7 H745.78"/>
<path d="M768.01,573.7 H789.61"/>
<path d="M811.84,573.7 H833.44"/>
<path d="M855.67,573.7 H877.27"/>
<path d="M899.5,573.7 H921.1"/>
<path d="M943.33,573.7 H964.93"/>
<path d="M987.16,573.7 H1008.76"/>
<path d="M1030.99,573.7 H1052.59"/>
<path d="M1074.82,573.7 H1096.42"/>
<path d="M1118.65,573.7 H1140.25"/>
<path d="M1162.48,573.7 H1184.08"/>
<path d="M1206.31,573.7 H1227.91"/>
<path d="M1250.14,573.7 H1271.74"/>
<path d="M1293.97,573.7 H1315.57"/>
<path d="M1337.8,573.7 H1359.4"/>
<path d="M1381.63,573.7 H1403.23"/>
<path d="M1425.46,573.7 H1447.06"/>
<path d="M1469.29,573.7 H1490.89"/>
<path d="M1513.12,573.7 H1534.72"/>
<path d="M1556.95,573.7 H1578.55"/>
<path d="M1600.78,573.7 H1622.38"/>
<path d="M1644.61,573.7 H1666.21"/>
<path d="M1688.44,573.7 H1710.04"/>
<path d="M3.3,24.4 V46"/>
<path d="M3.3,68.23 V89.83"/>
<path d="M3.3,112.06 V133.66"/>
<path d="M3.3,155.89 V177.49"/>
<path d="M3.3,199.72 V221.32"/>
<path d="M3.3,243.55 V265.15"/>
<path d="M3.3,287.38 V308.98"/>
<path d="M3.3,331.21 V352.81"/>
<path d="M3.3,375.04 V396.64"/>
<path d="M3.3,418.87 V440.47"/>
<path d="M3.3,462.7 V484.3"/>
<path d="M3.3,506.53 V528.13"/>
<path d="M3.3,550.36 V571.96"/>
<path d="M1731.7,26.6 V48.2"/>
<path d="M1731.7,70.43 V92.03"/>
<path d="M1731.7,114.26 V135.86"/>
<path d="M1731.7,158.09 V179.69"/>
<path d="M1731.7,201.92 V223.52"/>
<path d="M1731.7,245.75 V267.35"/>
<path d="M1731.7,289.58 V311.18"/>
<path d="M1731.7,333.41 V355.01"/>
<path d="M1731.7,377.24 V398.84"/>
<path d="M1731.7,421.07 V442.67"/>
<path d="M1731.7,464.9 V486.5"/>
<path d="M1731.7,508.73 V530.33"/>
<path d="M1731.7,552.56 V573.7"/>
</g>
<rect x="0.9" y="580.6" width="836.6" height="319.9" fill="none" stroke="#111" stroke-width="1.05" stroke-dasharray="6.3 3.88"/>
<rect x="861.4" y="581.5" width="871.1" height="319" fill="none" stroke="#111" stroke-width="1.05" stroke-dasharray="7.3 4.55"/>
<g stroke="#4154b0" stroke-width="4.7" fill="none" stroke-linecap="round" stroke-linejoin="round">
<path d="M467,306.7 H563"/>
<path d="M516.5,306.7 V31.7 H590"/>
<path d="M673,306.7 H710"/>
<path d="M821.5,306.7 H873"/>
<path d="M982,306.7 H1019"/>
<path d="M1130,306.7 H1171.5"/>
<path d="M1282.5,306.9 H1329.8 V31.8 H671"/>
<path d="M630.5,54 V66"/>
</g>
<path d="M294.5,306.7 H357" stroke="#0d0d0d" stroke-width="5.4" stroke-linecap="round"/>
<polygon points="381.4,306.7 356.2,316.7 356.2,296.7" fill="#0d0d0d"/>
<path d="M1332,307 L1415,305.3" stroke="#0d0d0d" stroke-width="5.4"/>
<polygon points="1439.6,305.2 1413.6,315.2 1413.6,295.2" fill="#0d0d0d"/>
<rect x="380.5" y="89.7" width="87.5" height="434.3" fill="#b1d0ee" stroke="#0b0b0b" stroke-width="3"/>
<text x="434.8" y="417.8" font-size="32.4" transform="rotate(-90 434.8 417.8)" text-anchor="start">Correspondences</text>
<text x="386.9" y="558.6" font-size="32.6" text-anchor="start"><tspan font-style="italic">N</tspan> × 4</text>
<rect x="587.7" y="89.7" width="86.6" height="434.3" fill="#b3addc" stroke="#0b0b0b" stroke-width="3"/>
<text x="641.5" y="422" font-size="32.4" transform="rotate(-90 641.5 422)" text-anchor="start">Embedding layer</text>
<text x="577.1" y="558.6" font-size="32.6" text-anchor="start"><tspan font-style="italic">N</tspan> × 128</text>
<rect x="735" y="89.7" width="87.3" height="434.3" fill="#f5f6a9" stroke="#0b0b0b" stroke-width="3"/>
<text x="786.3" y="420.5" font-size="32.4" transform="rotate(-90 786.3 420.5)" text-anchor="start">ResNet block × 3</text>
<text x="725" y="558.6" font-size="32.6" text-anchor="start"><tspan font-style="italic">N</tspan> × 128</text>
<rect x="897.3" y="89.7" width="85.7" height="434.3" fill="#b2e3a7" stroke="#0b0b0b" stroke-width="3"/>
<text x="948.6" y="466.4" font-size="32.4" transform="rotate(-90 948.6 466.4)" text-anchor="start">Multiscale cluster layer</text>
<text x="899.8" y="558.6" font-size="32.6" text-anchor="start"><tspan font-style="italic">N</tspan> × <tspan font-style="italic">C</tspan></text>
<rect x="1043.7" y="89.7" width="87.2" height="434.3" fill="#f5f6a9" stroke="#0b0b0b" stroke-width="3"/>
<text x="1096.5" y="422" font-size="32.4" transform="rotate(-90 1096.5 422)" text-anchor="start">ResNet block × 3</text>
<text x="1033.9" y="558.6" font-size="32.6" text-anchor="start"><tspan font-style="italic">N</tspan> × 128</text>
<rect x="1196.1" y="89.7" width="87" height="434.3" fill="#fbd9e8" stroke="#0b0b0b" stroke-width="3"/>
<text x="1247" y="417.9" font-size="32.4" transform="rotate(-90 1247 417.9)" text-anchor="start">Inlier probability</text>
<text x="1201.9" y="558.6" font-size="32.6" text-anchor="start"><tspan font-style="italic">N</tspan> × 1</text>
<polygon points="587.8,306.7 562.4,316.7 562.4,296.7" fill="#4154b0"/>
<polygon points="735.3,306.7 709.9,316.7 709.9,296.7" fill="#4154b0"/>
<polygon points="897.5,306.7 872.1,316.7 872.1,296.7" fill="#4154b0"/>
<polygon points="1043.7,306.7 1018.3,316.7 1018.3,296.7" fill="#4154b0"/>
<polygon points="1196,306.7 1170.6,316.7 1170.6,296.7" fill="#4154b0"/>
<polygon points="611.2,32 589.3,41.6 589.3,22.4" fill="#4154b0"/>
<polygon points="649.9,31.9 672,22 672,41.8" fill="#4154b0"/>
<polygon points="630.5,91 620.6,65.1 640.4,65.1" fill="#4154b0"/>
<circle cx="630.6" cy="34.9" r="18.6" fill="#fff" stroke="#4154b0" stroke-width="3.2"/>
<path d="M622.4,34.5 H639 M630.5,26 V43" stroke="#222" stroke-width="1.2" fill="none"/>
<g id="mcnet-u">
<path d="M89.1,638.5 V629.3 H101.3 M116.2,629.3 H612.4 V668" fill="none" stroke="#e8852b" stroke-width="1.2"/>
<path d="M171.4,720.5 V697.6 H183.6 M195,697.6 H509.6 V738" fill="none" stroke="#e8852b" stroke-width="1.2"/>
<path d="M248.2,803.2 V768.3 H259.8 M275.8,768.3 H404.6 V801" fill="none" stroke="#e8852b" stroke-width="1.2"/>
<path d="M718.8,597.4 V668" fill="none" stroke="#e8852b" stroke-width="1.2"/>
<polygon points="612.4,676.2 609.2,667.2 615.6,667.2" fill="#e8852b"/>
<polygon points="509.6,745.7 506.4,736.7 512.8,736.7" fill="#e8852b"/>
<polygon points="404.6,809.1 401.4,800.1 407.8,800.1" fill="#e8852b"/>
<polygon points="718.8,675.3 715.6,666.3 722,666.3" fill="#e8852b"/>
<path d="M32.9,615.6 V597.4" stroke="#4a1a08" stroke-width="1.4" fill="none"/>
<path d="M32.3,597.4 L793.4,597.4 L793.4,667.4" fill="none" stroke="#111111" stroke-width="1.4" stroke-linejoin="miter"/>
<polygon points="793.4,675 790.1,666.4 796.7,666.4" fill="#111111"/>
<path d="M126.2,638.5 V632.5 A3.2,3.2 0 0 1 126.2,626.1 V617.4" fill="none" stroke="#111111" stroke-width="1.4"/>
<path d="M125.6,617.4 L682.2,617.4 L682.2,668.6" fill="none" stroke="#111111" stroke-width="1.4" stroke-linejoin="miter"/>
<polygon points="682.2,676.2 678.9,667.6 685.5,667.6" fill="#111111"/>
<path d="M207.6,720.5 V700.8 A3.2,3.2 0 0 1 207.6,694.4 V685.4" fill="none" stroke="#111111" stroke-width="1.4"/>
<path d="M207,685.4 L556.6,685.4" fill="none" stroke="#111111" stroke-width="1.4" stroke-linejoin="miter"/>
<polygon points="564.2,685.4 555.6,688.7 555.6,682.1" fill="#111111"/>
<path d="M285.1,803.2 V771.5 A3.2,3.2 0 0 1 285.1,765.1 V758.9" fill="none" stroke="#111111" stroke-width="1.4"/>
<path d="M284.5,758.9 L453.8,758.9" fill="none" stroke="#111111" stroke-width="1.4" stroke-linejoin="miter"/>
<polygon points="461.4,758.9 452.8,762.2 452.8,755.6" fill="#111111"/>
<path d="M37.5,687.1 L76.5,687.1" fill="none" stroke="#111111" stroke-width="1.4" stroke-linejoin="miter"/>
<polygon points="84.1,687.1 75.5,690.4 75.5,683.8" fill="#111111"/>
<path d="M95.5,689.7 L112.7,689.7" fill="none" stroke="#111111" stroke-width="1.4" stroke-linejoin="miter"/>
<polygon points="120.3,689.7 111.7,693 111.7,686.4" fill="#111111"/>
<path d="M90.4,740.6 L90.4,777.6 L157.3,777.6" fill="none" stroke="#111111" stroke-width="1.4" stroke-linejoin="miter"/>
<polygon points="164.9,777.6 156.3,780.9 156.3,774.3" fill="#111111"/>
<path d="M176.5,755.6 L193.8,755.6" fill="none" stroke="#111111" stroke-width="1.4" stroke-linejoin="miter"/>
<polygon points="201.4,755.6 192.8,758.9 192.8,752.3" fill="#111111"/>
<path d="M169.6,791.2 L169.6,821.4 L235,821.4" fill="none" stroke="#111111" stroke-width="1.4" stroke-linejoin="miter"/>
<polygon points="242.6,821.4 234,824.7 234,818.1" fill="#111111"/>
<path d="M254.5,821.2 L271.8,821.2" fill="none" stroke="#111111" stroke-width="1.4" stroke-linejoin="miter"/>
<polygon points="279.4,821.2 270.8,824.5 270.8,817.9" fill="#111111"/>
<path d="M248.4,838.8 L248.4,865.7 L318.8,865.7" fill="none" stroke="#111111" stroke-width="1.4" stroke-linejoin="miter"/>
<polygon points="326.4,865.7 317.8,869 317.8,862.4" fill="#111111"/>
<path d="M338,864.4 L354.6,864.4" fill="none" stroke="#111111" stroke-width="1.4" stroke-linejoin="miter"/>
<polygon points="362.2,864.4 353.6,867.7 353.6,861.1" fill="#111111"/>
<path d="M374.7,857.6 L392.45,837.68" fill="none" stroke="#111111" stroke-width="1.4" stroke-linejoin="miter"/>
<polygon points="397.5,832 394.24,840.62 389.32,836.23" fill="#111111"/>
<path d="M417,821.7 L423.8,821.7" fill="none" stroke="#111111" stroke-width="1.4" stroke-linejoin="miter"/>
<polygon points="431.4,821.7 422.8,825 422.8,818.4" fill="#111111"/>
<path d="M443.3,809.1 L462.64,777.39" fill="none" stroke="#111111" stroke-width="1.4" stroke-linejoin="miter"/>
<polygon points="466.6,770.9 464.94,779.96 459.3,776.52" fill="#111111"/>
<path d="M485,758.9 L490.4,758.9" fill="none" stroke="#111111" stroke-width="1.4" stroke-linejoin="miter"/>
<polygon points="498,758.9 489.4,762.2 489.4,755.6" fill="#111111"/>
<path d="M522,759 L528.3,759" fill="none" stroke="#111111" stroke-width="1.4" stroke-linejoin="miter"/>
<polygon points="535.9,759 527.3,762.3 527.3,755.7" fill="#111111"/>
<path d="M547.1,746.1 L567.33,708.01" fill="none" stroke="#111111" stroke-width="1.4" stroke-linejoin="miter"/>
<polygon points="570.9,701.3 569.78,710.44 563.95,707.35" fill="#111111"/>
<path d="M588,689 L593.4,689" fill="none" stroke="#111111" stroke-width="1.4" stroke-linejoin="miter"/>
<polygon points="601,689 592.4,692.3 592.4,685.7" fill="#111111"/>
<path d="M624.8,689 L633.6,689" fill="none" stroke="#111111" stroke-width="1.4" stroke-linejoin="miter"/>
<polygon points="641.2,689 632.6,692.3 632.6,685.7" fill="#111111"/>
<path d="M653,688.8 L662.7,688.8" fill="none" stroke="#111111" stroke-width="1.4" stroke-linejoin="miter"/>
<polygon points="670.3,688.8 661.7,692.1 661.7,685.5" fill="#111111"/>
<path d="M694,688.6 L699.7,688.6" fill="none" stroke="#111111" stroke-width="1.4" stroke-linejoin="miter"/>
<polygon points="707.3,688.6 698.7,691.9 698.7,685.3" fill="#111111"/>
<path d="M731,688.4 L738,688.4" fill="none" stroke="#111111" stroke-width="1.4" stroke-linejoin="miter"/>
<polygon points="745.6,688.4 737,691.7 737,685.1" fill="#111111"/>
<path d="M757.5,687 L773.9,687" fill="none" stroke="#111111" stroke-width="1.4" stroke-linejoin="miter"/>
<polygon points="781.5,687 772.9,690.3 772.9,683.7" fill="#111111"/>
<path d="M805.3,686.8 L810.9,686.8" fill="none" stroke="#111111" stroke-width="1.4" stroke-linejoin="miter"/>
<polygon points="818.5,686.8 809.9,690.1 809.9,683.5" fill="#111111"/>
<polygon points="37.5,629.8 38.9,615.6 38.9,755.7 37.5,758.7" fill="#111111" stroke="#111111" stroke-width="1.3" stroke-linejoin="round"/>
<polygon points="27.4,629.8 37.5,629.8 38.9,615.6 28.8,615.6" fill="#f3f5a6" stroke="#111111" stroke-width="1.3" stroke-linejoin="round"/>
<rect x="27.4" y="629.8" width="10.1" height="128.9" fill="#f3f5a6" stroke="#111111" stroke-width="1.3"/>
<polygon points="94.5,648.5 95.7,638.5 95.7,737.6 94.5,740.6" fill="#111111" stroke="#111111" stroke-width="1.3" stroke-linejoin="round"/>
<polygon points="84.5,648.5 94.5,648.5 95.7,638.5 85.7,638.5" fill="#7a52b1" stroke="#111111" stroke-width="1.3" stroke-linejoin="round"/>
<rect x="84.5" y="648.5" width="10" height="92.1" fill="#7a52b1" stroke="#111111" stroke-width="1.3"/>
<polygon points="130.4,648.5 132,638.5 132,737.6 130.4,740.6" fill="#111111" stroke="#111111" stroke-width="1.3" stroke-linejoin="round"/>
<polygon points="120.7,648.5 130.4,648.5 132,638.5 122.3,638.5" fill="#f7a3b4" stroke="#111111" stroke-width="1.3" stroke-linejoin="round"/>
<rect x="120.7" y="648.5" width="9.7" height="92.1" fill="#f7a3b4" stroke="#111111" stroke-width="1.3"/>
<polygon points="175.3,727.4 177.3,720.5 177.3,788.2 175.3,791.2" fill="#111111" stroke="#111111" stroke-width="1.3" stroke-linejoin="round"/>
<polygon points="165.5,727.4 175.3,727.4 177.3,720.5 167.5,720.5" fill="#7a52b1" stroke="#111111" stroke-width="1.3" stroke-linejoin="round"/>
<rect x="165.5" y="727.4" width="9.8" height="63.8" fill="#7a52b1" stroke="#111111" stroke-width="1.3"/>
<polygon points="211.8,727.4 213.6,720.5 213.6,788.2 211.8,791.2" fill="#111111" stroke="#111111" stroke-width="1.3" stroke-linejoin="round"/>
<polygon points="201.8,727.4 211.8,727.4 213.6,720.5 203.6,720.5" fill="#f7a3b4" stroke="#111111" stroke-width="1.3" stroke-linejoin="round"/>
<rect x="201.8" y="727.4" width="10" height="63.8" fill="#f7a3b4" stroke="#111111" stroke-width="1.3"/>
<polygon points="253.3,807 255.1,803.2 255.1,835.8 253.3,838.8" fill="#111111" stroke="#111111" stroke-width="1.3" stroke-linejoin="round"/>
<polygon points="243,807 253.3,807 255.1,803.2 244.8,803.2" fill="#7a52b1" stroke="#111111" stroke-width="1.3" stroke-linejoin="round"/>
<rect x="243" y="807" width="10.3" height="31.8" fill="#7a52b1" stroke="#111111" stroke-width="1.3"/>
<polygon points="289.7,806.7 291.7,803.2 291.7,835.8 289.7,838.8" fill="#111111" stroke="#111111" stroke-width="1.3" stroke-linejoin="round"/>
<polygon points="279.7,806.7 289.7,806.7 291.7,803.2 281.7,803.2" fill="#f7a3b4" stroke="#111111" stroke-width="1.3" stroke-linejoin="round"/>
<rect x="279.7" y="806.7" width="10" height="32.1" fill="#f7a3b4" stroke="#111111" stroke-width="1.3"/>
<polygon points="336.9,857.8 338.7,855.8 338.7,871 336.9,874" fill="#111111" stroke="#111111" stroke-width="1.3" stroke-linejoin="round"/>
<polygon points="326.7,857.8 336.9,857.8 338.7,855.8 328.5,855.8" fill="#7a52b1" stroke="#111111" stroke-width="1.3" stroke-linejoin="round"/>
<rect x="326.7" y="857.8" width="10.2" height="16.2" fill="#7a52b1" stroke="#111111" stroke-width="1.3"/>
<polygon points="372.9,857.8 374.9,855.8 374.9,871 372.9,874" fill="#111111" stroke="#111111" stroke-width="1.3" stroke-linejoin="round"/>
<polygon points="362.5,857.8 372.9,857.8 374.9,855.8 364.5,855.8" fill="#f7a3b4" stroke="#111111" stroke-width="1.3" stroke-linejoin="round"/>
<rect x="362.5" y="857.8" width="10.4" height="16.2" fill="#f7a3b4" stroke="#111111" stroke-width="1.3"/>
<polygon points="441.6,806.5 443.6,803.2 443.6,835.8 441.6,838.8" fill="#111111" stroke="#111111" stroke-width="1.3" stroke-linejoin="round"/>
<polygon points="431.8,806.5 441.6,806.5 443.6,803.2 433.8,803.2" fill="#4abdb0" stroke="#111111" stroke-width="1.3" stroke-linejoin="round"/>
<rect x="431.8" y="806.5" width="9.8" height="32.3" fill="#4abdb0" stroke="#111111" stroke-width="1.3"/>
<polygon points="546.4,730.5 548.1,723.6 548.1,791.2 546.4,794.2" fill="#111111" stroke="#111111" stroke-width="1.3" stroke-linejoin="round"/>
<polygon points="536.5,730.5 546.4,730.5 548.1,723.6 538.2,723.6" fill="#4abdb0" stroke="#111111" stroke-width="1.3" stroke-linejoin="round"/>
<rect x="536.5" y="730.5" width="9.9" height="63.7" fill="#4abdb0" stroke="#111111" stroke-width="1.3"/>
<polygon points="651.4,648.5 653.2,638.5 653.2,738.1 651.4,741.1" fill="#111111" stroke="#111111" stroke-width="1.3" stroke-linejoin="round"/>
<polygon points="641.8,648.5 651.4,648.5 653.2,638.5 643.6,638.5" fill="#4abdb0" stroke="#111111" stroke-width="1.3" stroke-linejoin="round"/>
<rect x="641.8" y="648.5" width="9.6" height="92.6" fill="#4abdb0" stroke="#111111" stroke-width="1.3"/>
<polygon points="755.6,629.9 757.5,615.6 757.5,756.2 755.6,759.2" fill="#111111" stroke="#111111" stroke-width="1.3" stroke-linejoin="round"/>
<polygon points="746,629.9 755.6,629.9 757.5,615.6 747.9,615.6" fill="#4abdb0" stroke="#111111" stroke-width="1.3" stroke-linejoin="round"/>
<rect x="746" y="629.9" width="9.6" height="129.3" fill="#4abdb0" stroke="#111111" stroke-width="1.3"/>
<circle cx="405.2" cy="821.7" r="11.3" fill="#fff" stroke="#111111" stroke-width="1.3"/>
<text x="405.4" y="826" font-size="17" text-anchor="middle">Up</text>
<circle cx="473" cy="758.9" r="11.3" fill="#fff" stroke="#111111" stroke-width="1.3"/>
<text x="473" y="764.2" font-size="17" text-anchor="middle">C</text>
<circle cx="510.1" cy="759" r="11.3" fill="#fff" stroke="#111111" stroke-width="1.3"/>
<text x="510.3" y="763.3" font-size="17" text-anchor="middle">Up</text>
<circle cx="576" cy="688.5" r="11.3" fill="#fff" stroke="#111111" stroke-width="1.3"/>
<text x="576" y="693.8" font-size="17" text-anchor="middle">C</text>
<circle cx="612.9" cy="689" r="11.3" fill="#fff" stroke="#111111" stroke-width="1.3"/>
<text x="613.1" y="693.3" font-size="17" text-anchor="middle">Up</text>
<circle cx="682.2" cy="688.4" r="11.3" fill="#fff" stroke="#111111" stroke-width="1.3"/>
<text x="682.2" y="693.7" font-size="17" text-anchor="middle">C</text>
<circle cx="719.1" cy="688.4" r="11.3" fill="#fff" stroke="#111111" stroke-width="1.3"/>
<text x="719.3" y="692.7" font-size="17" text-anchor="middle">Up</text>
<circle cx="793.4" cy="686.6" r="11.3" fill="#fff" stroke="#111111" stroke-width="1.3"/>
<path d="M789,686.6 H797.8 M793.4,682.2 V691" stroke="#111111" stroke-width="0.95" fill="none"/>
<text x="66.8" y="681.8" font-size="17.2" transform="rotate(-90 66.8 681.8)" text-anchor="start">Pooling</text>
<text x="111.9" y="681.4" font-size="17.2" transform="rotate(-90 111.9 681.4)" text-anchor="start">OAFilter</text>
<text x="193" y="751.8" font-size="17.2" transform="rotate(-90 193 751.8)" text-anchor="start">OAFilter</text>
<text x="273.9" y="815.7" font-size="17.2" transform="rotate(-90 273.9 815.7)" text-anchor="start">OAFilter</text>
<text x="353.3" y="861.2" font-size="17.2" transform="rotate(-90 353.3 861.2)" text-anchor="start">OAFilter</text>
<text x="15.7" y="772.6" font-size="17.2" text-anchor="start">Input</text>
<text x="5.2" y="793.7" font-size="17.2" text-anchor="start"><tspan font-style="italic">N</tspan> × 128</text>
<text x="93.5" y="757.8" font-size="17.2" text-anchor="start"><tspan font-style="italic">N</tspan>/2 × 128</text>
<text x="100" y="793.3" font-size="17.2" text-anchor="start">Pooling</text>
<text x="172.6" y="806.6" font-size="17.2" text-anchor="start"><tspan font-style="italic">N</tspan>/4 × 128</text>
<text x="181.3" y="838.3" font-size="17.2" text-anchor="start">Pooling</text>
<text x="254.2" y="854" font-size="17.2" text-anchor="start"><tspan font-style="italic">N</tspan>/8 × 128</text>
<text x="262.2" y="881.9" font-size="17.2" text-anchor="start">Pooling</text>
<text x="322.5" y="890" font-size="17.2" text-anchor="start"><tspan font-style="italic">N</tspan>/16 × 128</text>
<text x="415.1" y="857.6" font-size="17.2" text-anchor="start"><tspan font-style="italic">N</tspan>/8 × 128</text>
<text x="514.6" y="812" font-size="17.2" text-anchor="start"><tspan font-style="italic">N</tspan>/4 × 128</text>
<text x="619.9" y="758.8" font-size="17.2" text-anchor="start"><tspan font-style="italic">N</tspan>/2 × 128</text>
<text x="727.9" y="777.8" font-size="17.2" text-anchor="start"><tspan font-style="italic">N</tspan> × 128</text>
<text x="780.6" y="717.6" font-size="17.2" text-anchor="start"><tspan font-style="italic">N</tspan> × 256</text>
<text x="823.2" y="690.8" font-size="17.2" font-style="italic" text-anchor="start">O</text>
<text x="27.4" y="887.8" font-size="17.2" text-anchor="start">MCNet-U</text>
<circle cx="654.1" cy="816.8" r="11.6" fill="#fff" stroke="#111111" stroke-width="1.3"/>
<path d="M649.7,816.8 H658.5 M654.1,812.4 V821.2" stroke="#111111" stroke-width="0.95" fill="none"/>
<circle cx="654.1" cy="849.7" r="11.6" fill="#fff" stroke="#111111" stroke-width="1.3"/>
<text x="654.3" y="854" font-size="17" text-anchor="middle">Up</text>
<circle cx="654.1" cy="881.1" r="11.6" fill="#fff" stroke="#111111" stroke-width="1.3"/>
<text x="654.1" y="886.4" font-size="17" text-anchor="middle">C</text>
<text x="677.9" y="819.6" font-size="17.2" text-anchor="start">Concat</text>
<text x="677.9" y="851.4" font-size="17.2" text-anchor="start">Upsampling layer</text>
<text x="677.9" y="884.9" font-size="17.2" text-anchor="start">Concat &amp; Embedding</text>
</g>
<g id="mcnet-m">
<path d="M903.5,637.2 V622.2 A3.9,3.9 0 0 1 903.5,614.4 V599.7" fill="none" stroke="#e8852b" stroke-width="1.6"/>
<path d="M902.7,599.7 H1379.6" fill="none" stroke="#e8852b" stroke-width="2"/>
<path d="M1260.2,599.7 V638.7 A3.3,3.3 0 0 1 1260.2,645.3 V685.6 A3.3,3.3 0 0 1 1260.2,692.2 V732.3 A3.3,3.3 0 0 1 1260.2,738.9 V757" fill="none" stroke="#e8852b" stroke-width="1.35"/>
<path d="M1309.1,599.7 V638.9 A3.3,3.3 0 0 1 1309.1,645.5 V685.7 A3.3,3.3 0 0 1 1309.1,692.3 V714" fill="none" stroke="#e8852b" stroke-width="1.35"/>
<path d="M1344.7,599.7 V639.1 A3.3,3.3 0 0 1 1344.7,645.7 V667" fill="none" stroke="#e8852b" stroke-width="1.35"/>
<path d="M1379,599.7 V621" fill="none" stroke="#e8852b" stroke-width="1.35"/>
<polygon points="1260.2,764.9 1256.6,755.7 1263.8,755.7" fill="#e8852b"/>
<polygon points="1309.1,721.8 1305.5,712.6 1312.7,712.6" fill="#e8852b"/>
<polygon points="1344.7,675.3 1341.1,666.1 1348.3,666.1" fill="#e8852b"/>
<polygon points="1379,629.1 1375.4,619.9 1382.6,619.9" fill="#e8852b"/>
<path d="M909,719.5 H1009.5" fill="none" stroke="#111111" stroke-width="1.4"/>
<path d="M1009.5,652.9 V794.3" fill="none" stroke="#111111" stroke-width="1.4"/>
<path d="M1009.5,653.6 L1112.9,653.6" fill="none" stroke="#111111" stroke-width="1.4" stroke-linejoin="miter"/>
<polygon points="1120.5,653.6 1111.9,656.9 1111.9,650.3" fill="#111111"/>
<path d="M1009.5,699.6 L1102.4,699.6" fill="none" stroke="#111111" stroke-width="1.4" stroke-linejoin="miter"/>
<polygon points="1110,699.6 1101.4,702.9 1101.4,696.3" fill="#111111"/>
<path d="M1009.5,746.4 L1081.7,746.4" fill="none" stroke="#111111" stroke-width="1.4" stroke-linejoin="miter"/>
<polygon points="1089.3,746.4 1080.7,749.7 1080.7,743.1" fill="#111111"/>
<path d="M1009.5,793.6 L1063.7,793.6" fill="none" stroke="#111111" stroke-width="1.4" stroke-linejoin="miter"/>
<polygon points="1071.3,793.6 1062.7,796.9 1062.7,790.3" fill="#111111"/>
<path d="M1142.4,639.9 L1357.7,642.41" fill="none" stroke="#111111" stroke-width="1.4" stroke-linejoin="miter"/>
<polygon points="1365.3,642.5 1356.66,645.7 1356.74,639.1" fill="#111111"/>
<path d="M1152.8,687.2 L1323.5,689.11" fill="none" stroke="#111111" stroke-width="1.4" stroke-linejoin="miter"/>
<polygon points="1331.1,689.2 1322.46,692.4 1322.54,685.8" fill="#111111"/>
<path d="M1173.8,734 L1287.8,735.41" fill="none" stroke="#111111" stroke-width="1.4" stroke-linejoin="miter"/>
<polygon points="1295.4,735.5 1286.76,738.69 1286.84,732.09" fill="#111111"/>
<path d="M1192.2,779.4 L1238.4,779.31" fill="none" stroke="#111111" stroke-width="1.4" stroke-linejoin="miter"/>
<polygon points="1246,779.3 1237.41,782.62 1237.39,776.02" fill="#111111"/>
<path d="M1393,642.7 L1415.6,642.7" fill="none" stroke="#111111" stroke-width="1.4" stroke-linejoin="miter"/>
<polygon points="1423.2,642.7 1414.6,646 1414.6,639.4" fill="#111111"/>
<path d="M1358.8,689.2 L1415.6,689.2" fill="none" stroke="#111111" stroke-width="1.4" stroke-linejoin="miter"/>
<polygon points="1423.2,689.2 1414.6,692.5 1414.6,685.9" fill="#111111"/>
<path d="M1323.1,735.5 L1415.6,735.5" fill="none" stroke="#111111" stroke-width="1.4" stroke-linejoin="miter"/>
<polygon points="1423.2,735.5 1414.6,738.8 1414.6,732.2" fill="#111111"/>
<path d="M1274.2,779.2 L1415.6,778.44" fill="none" stroke="#111111" stroke-width="1.4" stroke-linejoin="miter"/>
<polygon points="1423.2,778.4 1414.62,781.75 1414.58,775.15" fill="#111111"/>
<path d="M1590,642.7 L1670.4,642.7 L1670.4,690" fill="none" stroke="#111111" stroke-width="1.4" stroke-linejoin="miter"/>
<polygon points="1670.4,697.6 1667.1,689 1673.7,689" fill="#111111"/>
<path d="M1590,688 H1624.6 V735.3 H1590" fill="none" stroke="#111111" stroke-width="1.4"/>
<path d="M1624.6,711.7 L1647.2,711.7" fill="none" stroke="#111111" stroke-width="1.4" stroke-linejoin="miter"/>
<polygon points="1654.8,711.7 1646.2,715 1646.2,708.4" fill="#111111"/>
<path d="M1590,772.6 L1668.4,772.6 L1668.4,733.4" fill="none" stroke="#111111" stroke-width="1.4" stroke-linejoin="miter"/>
<polygon points="1668.4,725.8 1671.7,734.4 1665.1,734.4" fill="#111111"/>
<path d="M1682.6,711.7 L1696.9,711.7" fill="none" stroke="#111111" stroke-width="1.4" stroke-linejoin="miter"/>
<polygon points="1704.5,711.7 1695.9,715 1695.9,708.4" fill="#111111"/>
<polygon points="908.3,653.3 910.3,637.2 910.3,800.1 908.3,803.1" fill="#111111" stroke="#111111" stroke-width="1.3" stroke-linejoin="round"/>
<polygon points="897,653.3 908.3,653.3 910.3,637.2 899,637.2" fill="#f3f5a6" stroke="#111111" stroke-width="1.3" stroke-linejoin="round"/>
<rect x="897" y="653.3" width="11.3" height="149.8" fill="#f3f5a6" stroke="#111111" stroke-width="1.3"/>
<polygon points="1121,660 1140,660 1142.4,661.6 1124,661.6" fill="#111111" stroke="#111111" stroke-width="1.3" stroke-linejoin="round"/>
<polygon points="1140,647.2 1142.4,648.16 1142.4,661.6 1140,660" fill="#7a52b1" stroke="#111111" stroke-width="1.3" stroke-linejoin="round"/>
<rect x="1121" y="647.2" width="19" height="12.8" fill="#7a52b1" stroke="#111111" stroke-width="1.3"/>
<polygon points="1121.3,645.7 1140.2,645.7 1142.6,647.3 1124.3,647.3" fill="#111111" stroke="#111111" stroke-width="1.3" stroke-linejoin="round"/>
<polygon points="1140.2,633.5 1142.6,634.46 1142.6,647.3 1140.2,645.7" fill="#f7a3b4" stroke="#111111" stroke-width="1.3" stroke-linejoin="round"/>
<rect x="1121.3" y="633.5" width="18.9" height="12.2" fill="#f7a3b4" stroke="#111111" stroke-width="1.3"/>
<polygon points="1110.4,706.6 1148,706.6 1151.9,708.2 1113.4,708.2" fill="#111111" stroke="#111111" stroke-width="1.3" stroke-linejoin="round"/>
<polygon points="1148,693.6 1151.9,694.56 1151.9,708.2 1148,706.6" fill="#7a52b1" stroke="#111111" stroke-width="1.3" stroke-linejoin="round"/>
<rect x="1110.4" y="693.6" width="37.6" height="13" fill="#7a52b1" stroke="#111111" stroke-width="1.3"/>
<polygon points="1111.3,692.4 1148.8,692.4 1152.8,694 1114.3,694" fill="#111111" stroke="#111111" stroke-width="1.3" stroke-linejoin="round"/>
<polygon points="1148.8,680.5 1152.8,681.46 1152.8,694 1148.8,692.4" fill="#f7a3b4" stroke="#111111" stroke-width="1.3" stroke-linejoin="round"/>
<rect x="1111.3" y="680.5" width="37.5" height="11.9" fill="#f7a3b4" stroke="#111111" stroke-width="1.3"/>
<polygon points="1089.3,752.8 1164,752.8 1172.5,754.4 1092.3,754.4" fill="#111111" stroke="#111111" stroke-width="1.3" stroke-linejoin="round"/>
<polygon points="1164,739.9 1172.5,740.86 1172.5,754.4 1164,752.8" fill="#7a52b1" stroke="#111111" stroke-width="1.3" stroke-linejoin="round"/>
<rect x="1089.3" y="739.9" width="74.7" height="12.9" fill="#7a52b1" stroke="#111111" stroke-width="1.3"/>
<polygon points="1090.6,738.6 1165.2,738.6 1173.8,740.2 1093.6,740.2" fill="#111111" stroke="#111111" stroke-width="1.3" stroke-linejoin="round"/>
<polygon points="1165.2,726.2 1173.8,727.16 1173.8,740.2 1165.2,738.6" fill="#f7a3b4" stroke="#111111" stroke-width="1.3" stroke-linejoin="round"/>
<rect x="1090.6" y="726.2" width="74.6" height="12.4" fill="#f7a3b4" stroke="#111111" stroke-width="1.3"/>
<polygon points="1071.7,798.9 1179,798.9 1191.7,800.5 1074.7,800.5" fill="#111111" stroke="#111111" stroke-width="1.3" stroke-linejoin="round"/>
<polygon points="1179,786.5 1191.7,787.46 1191.7,800.5 1179,798.9" fill="#7a52b1" stroke="#111111" stroke-width="1.3" stroke-linejoin="round"/>
<rect x="1071.7" y="786.5" width="107.3" height="12.4" fill="#7a52b1" stroke="#111111" stroke-width="1.3"/>
<polygon points="1072.6,785 1180.6,785 1192.2,786.6 1075.6,786.6" fill="#111111" stroke="#111111" stroke-width="1.3" stroke-linejoin="round"/>
<polygon points="1180.6,773 1192.2,773.96 1192.2,786.6 1180.6,785" fill="#f7a3b4" stroke="#111111" stroke-width="1.3" stroke-linejoin="round"/>
<rect x="1072.6" y="773" width="108" height="12" fill="#f7a3b4" stroke="#111111" stroke-width="1.3"/>
<polygon points="1423.5,648 1572.6,648 1590,649.6 1426.5,649.6" fill="#111111" stroke="#111111" stroke-width="1.3" stroke-linejoin="round"/>
<polygon points="1572.6,635.5 1590,636.46 1590,649.6 1572.6,648" fill="#4abdb0" stroke="#111111" stroke-width="1.3" stroke-linejoin="round"/>
<rect x="1423.5" y="635.5" width="149.1" height="12.5" fill="#4abdb0" stroke="#111111" stroke-width="1.3"/>
<polygon points="1423.5,694.4 1572.6,694.4 1590,696 1426.5,696" fill="#111111" stroke="#111111" stroke-width="1.3" stroke-linejoin="round"/>
<polygon points="1572.6,681.9 1590,682.86 1590,696 1572.6,694.4" fill="#4abdb0" stroke="#111111" stroke-width="1.3" stroke-linejoin="round"/>
<rect x="1423.5" y="681.9" width="149.1" height="12.5" fill="#4abdb0" stroke="#111111" stroke-width="1.3"/>
<polygon points="1423.5,740.7 1572.6,740.7 1590,742.3 1426.5,742.3" fill="#111111" stroke="#111111" stroke-width="1.3" stroke-linejoin="round"/>
<polygon points="1572.6,728 1590,728.96 1590,742.3 1572.6,740.7" fill="#4abdb0" stroke="#111111" stroke-width="1.3" stroke-linejoin="round"/>
<rect x="1423.5" y="728" width="149.1" height="12.7" fill="#4abdb0" stroke="#111111" stroke-width="1.3"/>
<polygon points="1423.5,783.6 1572.6,783.6 1590,785.2 1426.5,785.2" fill="#111111" stroke="#111111" stroke-width="1.3" stroke-linejoin="round"/>
<polygon points="1572.6,771 1590,771.96 1590,785.2 1572.6,783.6" fill="#4abdb0" stroke="#111111" stroke-width="1.3" stroke-linejoin="round"/>
<rect x="1423.5" y="771" width="149.1" height="12.6" fill="#4abdb0" stroke="#111111" stroke-width="1.3"/>
<circle cx="1379" cy="642.7" r="13.6" fill="#fff" stroke="#111111" stroke-width="1.3"/>
<text x="1379.2" y="647.51" font-size="19" text-anchor="middle">Up</text>
<circle cx="1344.8" cy="689.2" r="13.6" fill="#fff" stroke="#111111" stroke-width="1.3"/>
<text x="1345" y="694.01" font-size="19" text-anchor="middle">Up</text>
<circle cx="1309.1" cy="735.5" r="13.6" fill="#fff" stroke="#111111" stroke-width="1.3"/>
<text x="1309.3" y="740.31" font-size="19" text-anchor="middle">Up</text>
<circle cx="1260.2" cy="779.2" r="13.6" fill="#fff" stroke="#111111" stroke-width="1.3"/>
<text x="1260.4" y="784.01" font-size="19" text-anchor="middle">Up</text>
<circle cx="1668.7" cy="711.7" r="13.6" fill="#fff" stroke="#111111" stroke-width="1.3"/>
<path d="M1664.1,711.7 H1673.3 M1668.7,707.1 V716.3" stroke="#111111" stroke-width="0.95" fill="none"/>
<text x="932.2" y="710.7" font-size="17.2" text-anchor="start">Pooling</text>
<text x="1016.3" y="671.4" font-size="17.2" text-anchor="start"><tspan font-style="italic">N</tspan>/16 × 128</text>
<text x="1016.3" y="717.3" font-size="17.2" text-anchor="start"><tspan font-style="italic">N</tspan>/8 × 128</text>
<text x="1017" y="764.6" font-size="17.2" text-anchor="start"><tspan font-style="italic">N</tspan>/4 × 128</text>
<text x="1017" y="811.5" font-size="17.2" text-anchor="start"><tspan font-style="italic">N</tspan>/2 × 128</text>
<text x="884.3" y="819.8" font-size="17.2" text-anchor="start">Input</text>
<text x="879.4" y="843.3" font-size="17.2" text-anchor="start"><tspan font-style="italic">N</tspan> × 128</text>
<text x="874.1" y="884.6" font-size="17.2" text-anchor="start">MCNet-M</text>
<text x="1470.5" y="809.7" font-size="17.2" text-anchor="start"><tspan font-style="italic">N</tspan> × 128</text>
<text x="1674" y="745.8" font-size="17.2" text-anchor="start"><tspan font-style="italic">N</tspan> × 512</text>
<text x="1710" y="718.2" font-size="17.2" font-style="italic" text-anchor="start">O</text>
<circle cx="1564.4" cy="831.4" r="13.6" fill="#fff" stroke="#111111" stroke-width="1.3"/>
<path d="M1559.8,831.4 H1569 M1564.4,826.8 V836" stroke="#111111" stroke-width="0.95" fill="none"/>
<circle cx="1564.4" cy="871.1" r="13.6" fill="#fff" stroke="#111111" stroke-width="1.3"/>
<text x="1564.6" y="875.91" font-size="19" text-anchor="middle">Up</text>
<text x="1592.9" y="834.9" font-size="17.2" text-anchor="start">Concat</text>
<text x="1592.9" y="874.8" font-size="17.2" text-anchor="start">Upsampling layer</text>
</g>
</svg>
</body></html>
